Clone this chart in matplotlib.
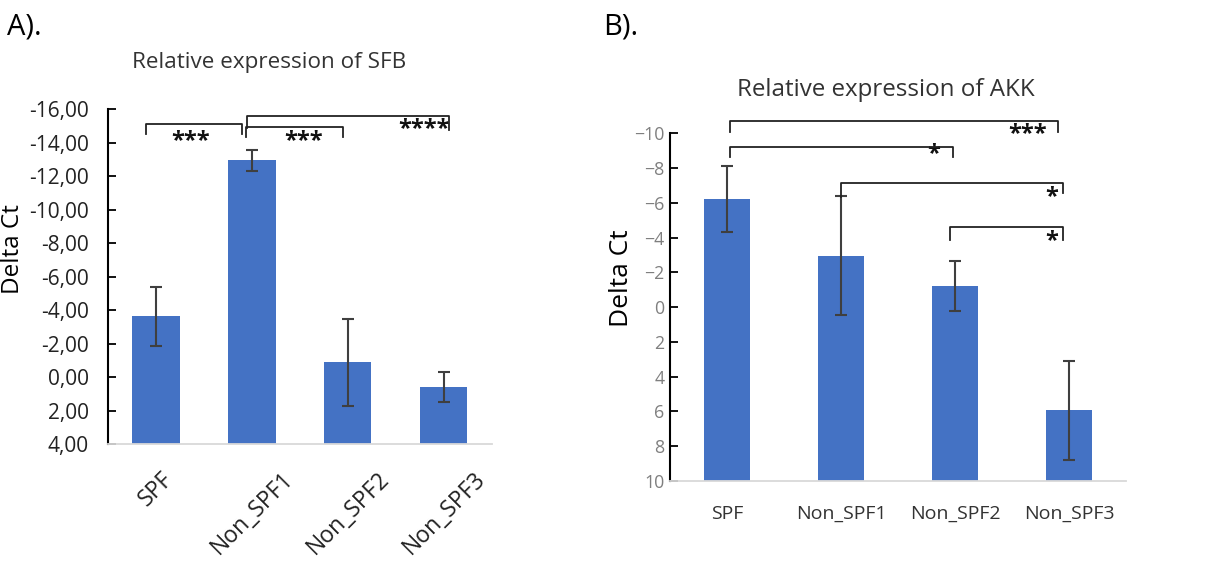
import numpy as np
import matplotlib
matplotlib.use('Agg')
import matplotlib.pyplot as plt
from matplotlib.ticker import FuncFormatter

plt.rcParams['font.family'] = ['Open Sans', 'DejaVu Sans']

groups = ['SPF', 'Non_SPF1', 'Non_SPF2', 'Non_SPF3']

# panel A - SFB
sfb_mean = [-3.62, -12.95, -0.88, 0.6]
sfb_err = [1.75, 0.62, 2.6, 0.91]
# panel B - AKK
akk_mean = [-6.22, -2.97, -1.23, 5.93]
akk_err = [1.9, 3.4, 1.45, 2.85]

# significance brackets: (x_left, x_right, top, left leg end, right leg end, stars, star x, star y)
sig_a = [
    (-0.1, 0.9, -15.1, -14.53, -14.53, '***', 0.36, -14.1),
    (0.94, 1.95, -14.96, -14.36, -14.36, '***', 1.54, -14.1),
    (0.95, 3.05, -15.6, -14.88, -14.76, '****', 2.79, -14.8),
]
sig_b = [
    (0.03, 2.9, -10.73, -10.09, -10.09, '***', 2.64, -9.95),
    (0.03, 1.98, -9.23, -8.62, -8.62, '*', 1.81, -8.8),
    (1.0, 2.95, -7.12, -6.35, -6.56, '*', 2.85, -6.35),
    (1.96, 2.95, -4.61, -3.86, -3.86, '*', 2.85, -3.8),
]

bar_col = '#4472C4'
err_col = '#3f3f3f'

fig = plt.figure(figsize=(12.15, 5.68), dpi=100)
axA = fig.add_axes([0.0889, 0.2183, 0.316, 0.5893])
axB = fig.add_axes([0.5514, 0.1532, 0.3753, 0.6121])

x = np.arange(len(groups))


def draw(ax, means, errs, base, width):
    means = np.array(means)
    ax.bar(x, means - base, bottom=base, width=width, color=bar_col, zorder=2)
    ax.errorbar(x, means, yerr=errs, fmt='none', ecolor=err_col, elinewidth=1.5,
                capsize=4, capthick=1.5, zorder=3)
    ax.set_xlim(-0.5, 3.5)
    for s in ['top', 'right']:
        ax.spines[s].set_visible(False)
    ax.spines['left'].set_color('black')
    ax.spines['left'].set_linewidth(1.5)
    ax.spines['bottom'].set_color('#d9d9d9')
    ax.spines['bottom'].set_linewidth(1.3)
    ax.tick_params(axis='y', direction='in', length=6, width=1.3, color='black')
    ax.tick_params(axis='x', length=0)


def brackets(ax, sigs, fs):
    for x0, x1, top, l0, l1, st, sx, sy in sigs:
        ax.plot([x0, x0, x1, x1], [l0, top, top, l1], color='#222222', lw=1.3,
                clip_on=False, zorder=4)
        ax.text(sx, sy, st, ha='center', va='center', fontsize=fs,
                fontweight='bold', color='#111111')


# ---- A ----
draw(axA, sfb_mean, sfb_err, 4, 0.49)
axA.set_ylim(4, -16)
axA.set_yticks(np.arange(-16, 5, 2))
axA.yaxis.set_major_formatter(FuncFormatter(lambda v, p: f'{v:.2f}'.replace('.', ',')))
axA.tick_params(axis='y', labelsize=15, labelcolor='#222222', pad=14)
axA.set_xticks(x)
axA.set_xticklabels(groups, rotation=45, ha='center', va='top', fontsize=16.5,
                    color='#222222')
axA.tick_params(axis='x', pad=17)
axA.set_ylabel('Delta Ct', fontsize=17.5, color='black')
axA.yaxis.set_label_coords(-0.216, 0.583)
axA.set_title('Relative expression of SFB', fontsize=16.2, color='#333333', pad=30,
              x=0.42)
brackets(axA, sig_a, 17)

# ---- B ----
draw(axB, akk_mean, akk_err, 10, 0.41)
axB.set_ylim(10, -10)
axB.set_yticks(np.arange(-10, 11, 2))
axB.tick_params(axis='y', labelsize=12.8, labelcolor='#7f7f7f', pad=4)
axB.set_xticks(x)
axB.set_xticklabels(groups, fontsize=14, color='#333333')
axB.tick_params(axis='x', pad=17)
axB.set_ylabel('Delta Ct', fontsize=19, color='black')
axB.yaxis.set_label_coords(-0.079, 0.582)
axB.set_title('Relative expression of AKK', fontsize=17.4, color='#333333', pad=27,
              x=0.474)
brackets(axB, sig_b, 17)

fig.text(0.006, 0.953, 'A).', fontsize=21, va='center', ha='left')
fig.text(0.496, 0.953, 'B).', fontsize=21, va='center', ha='left')

fig.savefig('out.png', dpi=100)
